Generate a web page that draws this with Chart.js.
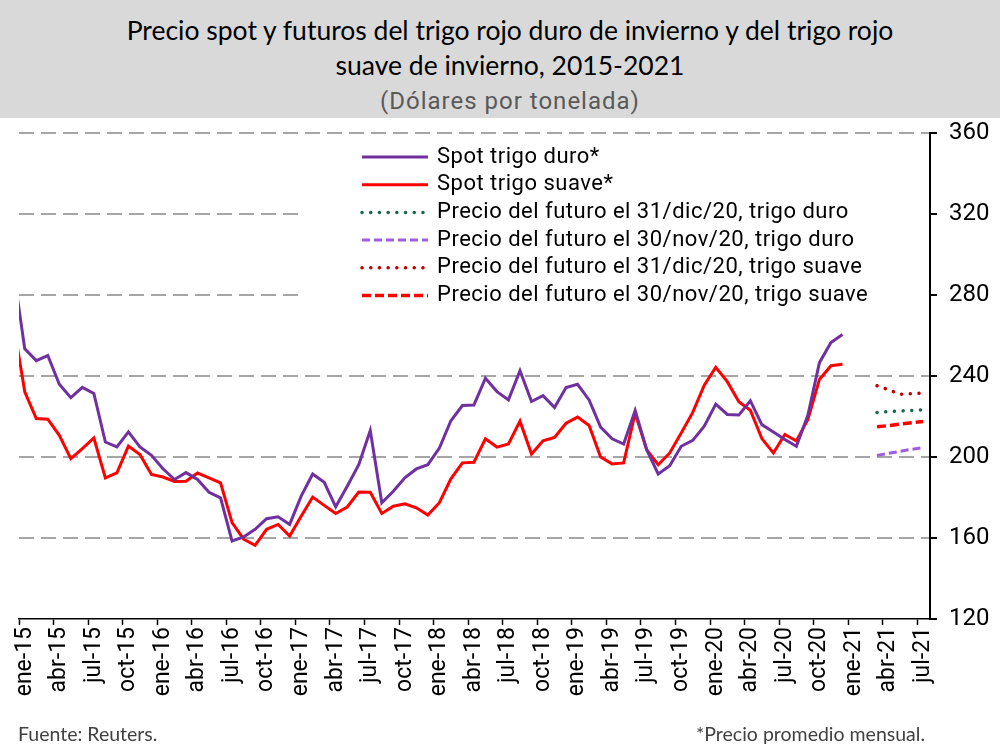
<!DOCTYPE html>
<html lang="es">
<head>
<meta charset="utf-8">
<title>Precio spot y futuros del trigo</title>
<script src="https://cdn.jsdelivr.net/npm/chart.js@4.4.1/dist/chart.umd.min.js"></script>
<style>
  html, body { margin: 0; padding: 0; background: #fff; }
  #lienzo { position: relative; width: 1000px; height: 744px; overflow: hidden; }
  #cabecera { position: absolute; left: 0; top: 0; width: 1000px; height: 118px; background: #d9d9d9; }
  .titulo { position: absolute; left: 20px; right: 0; text-align: center; white-space: nowrap; }
  #t1, #t2 { font-family: Lato, sans-serif; font-size: 26.5px; line-height: 34px; color: #000; }
  #t1 { top: 13px; }
  #t2 { top: 48px; }
  #t3 { top: 86px; font-family: Roboto, sans-serif; font-size: 24px; line-height: 30px; letter-spacing: 1px; color: #595959; }
  canvas { position: absolute; left: 0; top: 0; }
  .pie { position: absolute; top: 723px; font-family: Lato, sans-serif; font-size: 19.5px; line-height: 22px; color: #404040; }
  #fuente { left: 18px; }
  #nota { right: 75px; }
</style>
</head>
<body>
<div id="lienzo">
  <canvas id="grafica" width="1000" height="744"></canvas>
  <div id="cabecera">
    <div class="titulo" id="t1">Precio spot y futuros del trigo rojo duro de invierno y del trigo rojo</div>
    <div class="titulo" id="t2">suave de invierno, 2015-2021</div>
    <div class="titulo" id="t3">(Dólares por tonelada)</div>
  </div>
  <div class="pie" id="fuente">Fuente: Reuters.</div>
  <div class="pie" id="nota">*Precio promedio mensual.</div>
</div>
<script>
// ──────────────────────────────────────────────
//  Datos (USD por tonelada)
// ──────────────────────────────────────────────

const MESES = ['ene', 'feb', 'mar', 'abr', 'may', 'jun', 'jul', 'ago', 'sep', 'oct', 'nov', 'dic'];

const etiquetasEje = [
  'ene-15', 'abr-15', 'jul-15', 'oct-15', 'ene-16', 'abr-16', 'jul-16', 'oct-16',
  'ene-17', 'abr-17', 'jul-17', 'oct-17', 'ene-18', 'abr-18', 'jul-18', 'oct-18',
  'ene-19', 'abr-19', 'jul-19', 'oct-19', 'ene-20', 'abr-20', 'jul-20', 'oct-20',
  'ene-21', 'abr-21', 'jul-21',
];

// Spot mensual, desde dic-14 hasta dic-20
const inicioSpot = 'dic-14';

const spotDuro = [
  293.0,
  253.4, 247.6, 250.1, 235.9, 229.3, 234.4, 231.4, 207.4, 205.0, 212.4, 205.0, 200.8,
  194.2, 188.9, 192.3, 188.9, 182.6, 179.8, 158.5, 160.5, 164.3, 169.5, 170.5, 166.7,
  180.7, 191.6, 187.5, 175.4, 185.6, 196.2, 213.1, 177.4, 183.1, 189.7, 194.1, 196.2,
  204.4, 217.9, 225.4, 225.7, 238.9, 232.3, 228.2, 242.6, 227.4, 230.3, 224.4, 234.3,
  235.9, 228.2, 214.8, 209.0, 206.4, 223.0, 203.6, 191.6, 195.7, 205.3, 208.2, 215.2,
  226.1, 221.0, 220.7, 227.8, 216.0, 212.4, 208.6, 205.3, 220.7, 246.6, 256.5, 260.5,
];

const spotSuave = [
  266.7,
  232.2, 219.0, 218.7, 210.7, 199.2, 204.1, 209.4, 189.7, 192.2, 205.4, 201.2, 191.4,
  190.1, 187.9, 188.0, 192.1, 189.7, 187.2, 167.6, 159.4, 156.4, 164.3, 166.7, 161.0,
  170.8, 180.2, 176.1, 172.1, 175.3, 182.7, 182.6, 172.1, 175.7, 176.9, 174.9, 171.3,
  177.4, 189.2, 197.1, 197.4, 209.0, 204.9, 206.4, 217.7, 201.5, 208.0, 209.7, 216.7,
  219.7, 215.6, 200.0, 196.6, 197.1, 221.6, 203.6, 196.2, 202.0, 211.8, 222.0, 235.5,
  244.3, 237.2, 227.3, 223.1, 209.1, 202.0, 211.1, 207.9, 218.5, 238.3, 245.1, 245.8,
];

// Futuros, vencimientos mar-21 a jul-21
const mesesFuturo = ['mar-21', 'abr-21', 'may-21', 'jun-21', 'jul-21'];

const futDuroDic = [222.0, 222.4, 222.7, 223.0, 223.3];
const futDuroNov = [200.8, 201.8, 202.8, 203.8, 204.6];
const futSuaveDic = [235.2, 233.2, 231.0, 231.3, 231.5];
const futSuaveNov = [214.9, 215.5, 216.2, 216.9, 217.5];

// ──────────────────────────────────────────────
//  Helpers
// ──────────────────────────────────────────────

// 'ene-15' -> 0, 'feb-15' -> 1, ...
function indiceMes(etiqueta) {
  const [mes, anio] = etiqueta.split('-');
  return (Number(anio) - 15) * 12 + MESES.indexOf(mes);
}

function serieDesde(inicio, valores) {
  const base = indiceMes(inicio);
  return valores.map((v, k) => ({ x: base + k, y: v }));
}

function serieEn(meses, valores) {
  return valores.map((v, k) => ({ x: indiceMes(meses[k]), y: v }));
}

function linea(label, data, color, ancho, extra = {}) {
  return {
    label, data,
    borderColor: color,
    backgroundColor: color,
    borderWidth: ancho,
    pointRadius: 0,
    tension: 0,
    fill: false,
    clip: 0,
    ...extra,
  };
}

// ──────────────────────────────────────────────
//  Leyenda dentro del área (con fondo blanco)
// ──────────────────────────────────────────────

const leyenda = {
  id: 'leyenda',
  beforeDatasetsDraw(chart) {
    const ctx = chart.ctx;
    ctx.save();
    ctx.fillStyle = '#fff';
    ctx.fillRect(302, 141, 627, 166);
    ctx.font = '22px Roboto';
    if ('letterSpacing' in ctx) ctx.letterSpacing = '0.5px';
    ctx.textBaseline = 'middle';
    ctx.textAlign = 'left';
    chart.data.datasets.forEach((ds, k) => {
      const y = 157 + k * 27.7;
      ctx.beginPath();
      ctx.setLineDash(ds.borderDash || []);
      ctx.lineCap = ds.borderCapStyle || 'butt';
      ctx.lineWidth = ds.borderWidth;
      ctx.strokeStyle = ds.borderColor;
      ctx.moveTo(362, y);
      ctx.lineTo(428, y);
      ctx.stroke();
      ctx.setLineDash([]);
      ctx.fillStyle = '#000';
      ctx.fillText(ds.label, 437, y);
    });
    ctx.restore();
  },
};

// ──────────────────────────────────────────────
//  Gráfica
// ──────────────────────────────────────────────

const punteado = { borderDash: [0.1, 8.6], borderCapStyle: 'round' };

new Chart(document.getElementById('grafica'), {
  type: 'line',
  data: {
    datasets: [
      linea('Spot trigo duro*', serieDesde(inicioSpot, spotDuro), '#7030a0', 3),
      linea('Spot trigo suave*', serieDesde(inicioSpot, spotSuave), '#ff0000', 3),
      linea('Precio del futuro el 31/dic/20, trigo duro', serieEn(mesesFuturo, futDuroDic), '#1d6650', 3.5, punteado),
      linea('Precio del futuro el 30/nov/20, trigo duro', serieEn(mesesFuturo, futDuroNov), '#9e5fdc', 3, { borderDash: [8, 4] }),
      linea('Precio del futuro el 31/dic/20, trigo suave', serieEn(mesesFuturo, futSuaveDic), '#c00000', 3.5, punteado),
      linea('Precio del futuro el 30/nov/20, trigo suave', serieEn(mesesFuturo, futSuaveNov), '#ff0000', 3.5, { borderDash: [9, 4] }),
    ],
  },
  options: {
    responsive: false,
    animation: false,
    layout: { padding: { left: 19, top: 133, right: 0, bottom: 0 } },
    plugins: {
      legend: { display: false },
      title: { display: false },
      tooltip: { enabled: false },
    },
    scales: {
      x: {
        type: 'linear',
        min: -0.5,
        max: 78.6,
        afterBuildTicks: scale => {
          scale.ticks = etiquetasEje.map(e => ({ value: indiceMes(e) - 0.5 }));
        },
        afterFit: scale => { scale.height = 125; },
        ticks: {
          autoSkip: false,
          minRotation: 90,
          maxRotation: 90,
          labelOffset: 5.8,
          padding: 2,
          color: '#000',
          font: { family: 'Roboto', size: 23 },
          callback: (v, i) => etiquetasEje[i],
        },
        grid: {
          drawOnChartArea: false,
          drawTicks: true,
          tickLength: 6,
          tickColor: '#000',
          tickWidth: 1.5,
        },
        border: { display: true, color: '#000', width: 1.5 },
      },
      y: {
        position: 'right',
        min: 120,
        max: 360,
        afterFit: scale => { scale.width = 70; },
        ticks: {
          stepSize: 40,
          padding: 12,
          color: '#000',
          font: { family: 'Roboto', size: 24 },
        },
        grid: {
          color: c => (c.tick && c.tick.value === 120 ? 'rgba(0,0,0,0)' : '#a6a6a6'),
          lineWidth: 2,
          drawTicks: true,
          tickLength: 7,
          tickColor: '#000',
          tickWidth: 2,
          tickBorderDash: [],
        },
        border: { display: true, color: '#000', width: 2, dash: [15, 7] },
      },
    },
  },
  plugins: [leyenda],
});
</script>
</body>
</html>
